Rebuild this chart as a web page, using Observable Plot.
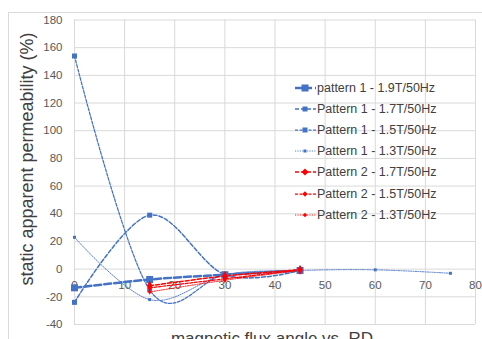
<!DOCTYPE html>
<html>
<head>
<meta charset="utf-8">
<script src="https://cdn.jsdelivr.net/npm/d3@7"></script>
<script src="https://cdn.jsdelivr.net/npm/@observablehq/plot@0.6"></script>
<style>
  html, body { margin: 0; padding: 0; background: #fff; overflow: hidden; }
  #wrap { position: relative; width: 482px; height: 339px; font-family: "Liberation Sans", Arial, sans-serif; }
  #border { position: absolute; left: 8px; top: 12px; width: 490px; height: 350px; border: 1px solid #d9d9d9; }
  #chart { position: absolute; left: 0; top: 0; }
  #ytitle { position: absolute; left: 27px; top: 159px; transform: translate(-50%, -50%) rotate(-90deg); white-space: nowrap; font-size: 18px; color: #404040; }
  #xtitle { position: absolute; left: 272px; top: 329px; transform: translateX(-50%); white-space: nowrap; font-size: 17px; color: #404040; }
  #legend { position: absolute; left: 295px; top: 77px; font-size: 12.5px; color: #404040; }
  .row { height: 21.2px; display: flex; align-items: center; }
  .row svg { margin-right: 1px; }
</style>
</head>
<body>
<div id="wrap">
  <div id="border"></div>
  <div id="chart"></div>
  <div id="ytitle">static apparent permeability (%)</div>
  <div id="xtitle">magnetic flux angle vs. RD</div>
  <div id="legend"></div>
</div>
<script>
// ---- data ----
const xTicks = [0, 10, 20, 30, 40, 50, 60, 70, 80];
const yTicks = [-40, -20, 0, 20, 40, 60, 80, 100, 120, 140, 160, 180];

const angles1 = [0, 15, 30, 45];
const p1_19 = [-13.5, -7.5, -4, -1];
const p1_17 = [-24, 39, -4, -1];
const p1_15 = [154, -15, -4, -1];
const angles13 = [0, 15, 30, 45, 60, 75];
const p1_13 = [23, -22, -4, -1, -0.5, -3];
const angles2 = [15, 30, 45];
const p2_17 = [-12, -5, -0.5];
const p2_15 = [-13.5, -7, -0.5];
const p2_13 = [-16.5, -8, -1];

const names = [
  "pattern 1 - 1.9T/50Hz",
  "Pattern 1 - 1.7T/50Hz",
  "Pattern 1 - 1.5T/50Hz",
  "Pattern 1 - 1.3T/50Hz",
  "Pattern 2 - 1.7T/50Hz",
  "Pattern 2 - 1.5T/50Hz",
  "Pattern 2 - 1.3T/50Hz"
];

const blue = "#4472C4", red = "#FF0000";
const series = [
  {name: names[0], xs: angles1, ys: p1_19, color: blue, sw: 2.5, dash: "7,3", symbol: "square", size: 7},
  {name: names[1], xs: angles1, ys: p1_17, color: blue, sw: 1.5, dash: "4,2", symbol: "square", size: 5},
  {name: names[2], xs: angles1, ys: p1_15, color: blue, sw: 1.25, dash: "3,1.5", symbol: "square", size: 5},
  {name: names[3], xs: angles13, ys: p1_13, color: blue, sw: 0.9, dash: "1.2,1.2", symbol: "square", size: 3},
  {name: names[4], xs: angles2, ys: p2_17, color: red, sw: 1.5, dash: "4,2", symbol: "diamond", size: 6},
  {name: names[5], xs: angles2, ys: p2_15, color: red, sw: 1.25, dash: "3,1.5", symbol: "diamond", size: 4.5},
  {name: names[6], xs: angles2, ys: p2_13, color: red, sw: 0.9, dash: "1.2,1.2", symbol: "diamond", size: 3.5}
];

const marks = [
  Plot.ruleX(xTicks, {stroke: "#d9d9d9", strokeWidth: 1}),
  Plot.ruleY(yTicks, {stroke: "#d9d9d9", strokeWidth: 1}),
  Plot.text(yTicks, {frameAnchor: "left", y: d => d, dx: -12, textAnchor: "end", text: d => String(d), fontSize: 11.5, fill: "#595959"}),
  Plot.text(xTicks, {x: d => d, y: 0, dy: 16, text: d => String(d), fontSize: 11.5, fill: "#595959"})
];

const toR = (s) => s / Math.sqrt(Math.PI);
for (const s of series) {
  const rows = s.xs.map((x, i) => ({x, y: s.ys[i]}));
  marks.push(Plot.line(rows, {x: "x", y: "y", stroke: s.color, strokeWidth: s.sw, strokeDasharray: s.dash, curve: "cardinal"}));
}
for (const s of series) {
  const rows = s.xs.map((x, i) => ({x, y: s.ys[i]}));
  const r = s.symbol === "diamond" ? s.size / 2 : toR(s.size);
  marks.push(Plot.dot(rows, {x: "x", y: "y", fill: s.color, stroke: "none", symbol: s.symbol, r}));
}

const chart = Plot.plot({
  width: 482,
  height: 339,
  marginLeft: 74,
  marginRight: 7,
  marginTop: 19.5,
  marginBottom: 15,
  style: {fontFamily: "'Liberation Sans', Arial, sans-serif", background: "transparent"},
  x: {domain: [0, 80], axis: null},
  y: {domain: [-40, 180], axis: null},
  marks
});
document.getElementById("chart").appendChild(chart);

// ---- legend ----
const legend = document.getElementById("legend");
for (const s of series) {
  const row = document.createElement("div");
  row.className = "row";
  const sz = Math.min(s.size, 7);
  let marker;
  if (s.symbol === "square") {
    marker = `<rect x="${10 - sz / 2}" y="${5 - sz / 2}" width="${sz}" height="${sz}" fill="${s.color}"/>`;
  } else {
    const h = sz / 2 + 0.5;
    marker = `<path d="M10,${5 - h}L${10 + h},5L10,${5 + h}L${10 - h},5Z" fill="${s.color}"/>`;
  }
  row.innerHTML = `<svg width="21" height="10"><line x1="0" x2="21" y1="5" y2="5" stroke="${s.color}" stroke-width="${s.sw}" stroke-dasharray="${s.dash}"/>${marker}</svg><span>${s.name}</span>`;
  legend.appendChild(row);
}
</script>
</body>
</html>
